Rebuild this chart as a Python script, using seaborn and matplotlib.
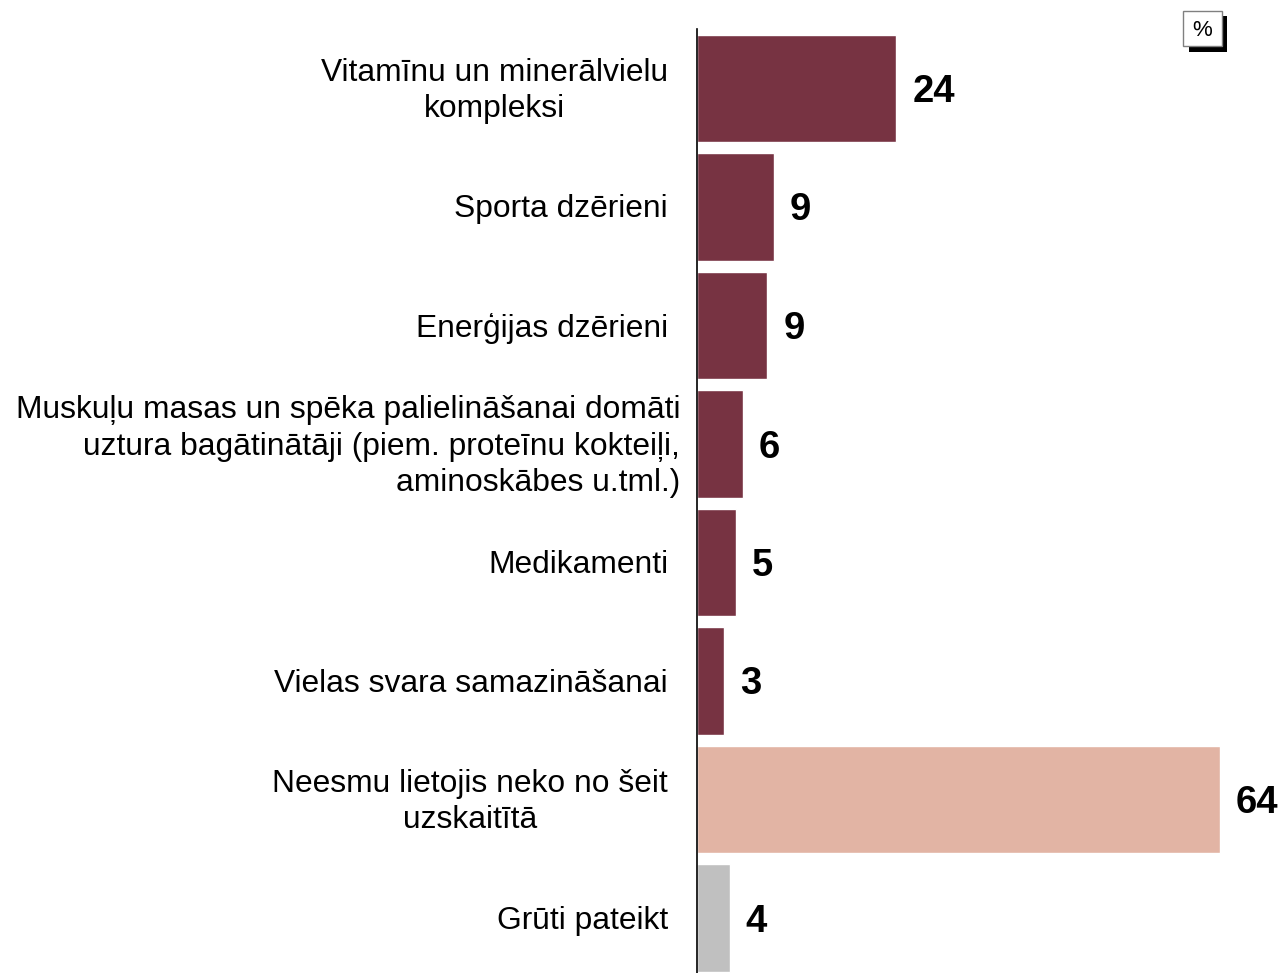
import matplotlib
matplotlib.use("Agg")
import matplotlib.pyplot as plt
import matplotlib.transforms as mtransforms
from matplotlib.patches import Rectangle
import seaborn as sns
import pandas as pd

categories = [
    "Vitamīnu un minerālvielu\nkompleksi",
    "Sporta dzērieni",
    "Enerģijas dzērieni",
    "Muskuļu masas un spēka palielināšanai domāti\nuztura bagātinātāji (piem. proteīnu kokteiļi,\naminoskābes u.tml.)",
    "Medikamenti",
    "Vielas svara samazināšanai",
    "Neesmu lietojis neko no šeit\nuzskaitītā",
    "Grūti pateikt",
]
values = [24.4, 9.4, 8.6, 5.6, 4.8, 3.3, 64.0, 4.0]
value_labels = ["24", "9", "9", "6", "5", "3", "64", "4"]
bar_colors = ["#773342", "#773342", "#773342", "#773342", "#773342", "#773342", "#E2B4A4", "#C0C0C0"]
unit_label = "%"

sns.set_theme(style="white")
plt.rcParams["font.family"] = ["Liberation Sans", "DejaVu Sans"]

W, H = 1283, 973
fig = plt.figure(figsize=(W / 100, H / 100), dpi=100)
left = 697 / W
top_px = 29.25
ax = fig.add_axes([left, 0, 1 - left, 1 - top_px / H])

df = pd.DataFrame({"cat": categories, "val": values})
sns.barplot(data=df, x="val", y="cat", hue="cat", palette=bar_colors,
            legend=False, width=0.91, ax=ax, saturation=1)

ax.set_xlim(0, (W - 697) / 8.17)
ax.set_ylim(7.5 - 4.25 / 118.5, -0.5)
ax.set_xlabel("")
ax.set_ylabel("")
ax.set_xticks([])
ax.set_yticks([])
for s in ["top", "right", "bottom"]:
    ax.spines[s].set_visible(False)
ax.spines["left"].set_color("black")
ax.spines["left"].set_linewidth(1.2)

# category labels
for i, cat in enumerate(categories):
    gap = 29 if i != 3 else 17
    tr = ax.get_yaxis_transform() + mtransforms.ScaledTranslation(-gap / 100, -2.5 / 100, fig.dpi_scale_trans)
    ax.text(0, i, cat, transform=tr, ha="right", va="center", ma="right" if i == 3 else "center",
            fontsize=22.9, color="black", linespacing=1.29)

# value labels
for i, (v, lab) in enumerate(zip(values, value_labels)):
    tr = ax.transData + mtransforms.ScaledTranslation(16 / 100, -3.5 / 100, fig.dpi_scale_trans)
    ax.text(v, i, lab, transform=tr, ha="left", va="center", fontsize=27.5,
            fontweight="bold", color="black")

# unit box with shadow (figure pixel coordinates)
def px_rect(x0, y0, x1, y1, **kw):
    return Rectangle((x0 / W, 1 - y1 / H), (x1 - x0) / W, (y1 - y0) / H,
                     transform=fig.transFigure, **kw)

fig.patches.append(px_rect(1189, 16, 1227, 52, facecolor="black", edgecolor="none", zorder=1))
fig.patches.append(px_rect(1183, 11, 1222, 46, facecolor="white", edgecolor="#808080",
                           linewidth=1, zorder=2))
fig.text(1202.5 / W, 1 - 30 / H, unit_label, ha="center", va="center", fontsize=16,
         color="black", zorder=3)

fig.savefig("out.png", dpi=100)
